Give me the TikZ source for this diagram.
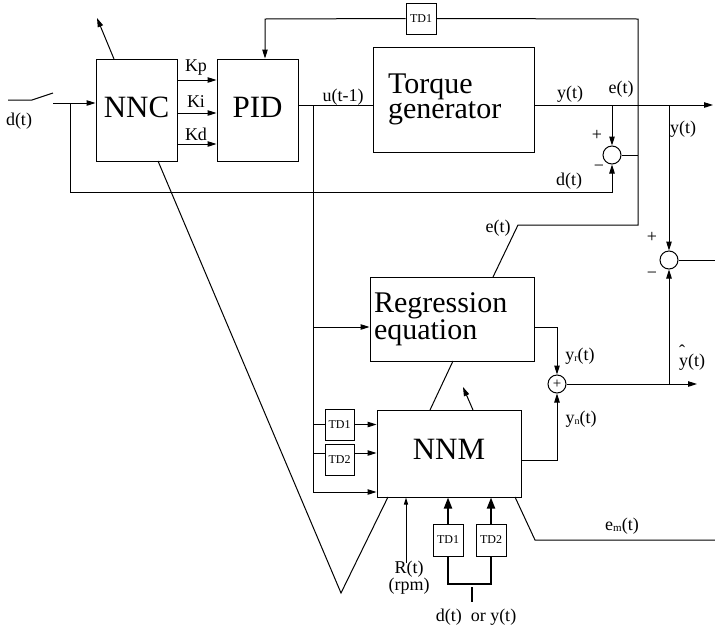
\documentclass[tikz,border=0pt]{standalone}
\usepackage{fontspec}
\setmainfont{Liberation Serif}
\usetikzlibrary{arrows.meta,calc}
\begin{document}
\begin{tikzpicture}[x=1pt,y=-1pt,line width=1pt,
  box/.style={draw,line width=1pt,inner sep=0pt},
  big/.style={font=\fontsize{31}{27}\selectfont},
  lab/.style={font=\fontsize{18}{18}\selectfont,inner sep=0pt},
  tdbox/.style={draw,font=\fontsize{12}{12}\selectfont,inner sep=0pt,minimum width=30pt,minimum height=31pt},
  sumc/.style={draw,circle,minimum size=18pt,inner sep=0pt},
  arr/.style={-{Triangle[length=9pt,width=5.5pt]}},
  arrs/.style={-{Triangle[length=7pt,width=4pt]}},
  tharr/.style={line width=2pt,-{Triangle[length=11pt,width=8pt]}},
  thl/.style={line width=2pt}]
\useasboundingbox (0,0) rectangle (715,630);

% blocks
\node[box,minimum width=81pt,minimum height=102pt,big] (nnc) at (136.5,110) {\raisebox{5pt}{NNC}};
\node[box,minimum width=81pt,minimum height=102pt,big] (pid) at (257.5,110) {\raisebox{5pt}{PID}};
\node[box,minimum width=161pt,minimum height=105pt,font=\fontsize{30}{23}\selectfont,text width=131pt,align=left] (tg) at (453.5,99.5) {Torque\\generator};
\node[box,minimum width=164pt,minimum height=84pt,font=\fontsize{30}{27}\selectfont,text width=156pt,align=left] (reg) at (452,319) {Regression\\equation};
\node[box,minimum width=144pt,minimum height=87pt,big] (nnm) at (449,453.5) {\raisebox{9pt}{NNM}};
\node[tdbox] (tdT) at (421,18.5) {TD1};
\node[tdbox,minimum width=29pt] (tdA) at (339.5,424.5) {TD1};
\node[tdbox,minimum width=29pt] (tdB) at (339.5,459.5) {TD2};
\node[tdbox,minimum height=32pt] (tdC) at (448,540) {TD1};
\node[tdbox,minimum height=32pt] (tdD) at (491,540) {TD2};
\node[sumc] (s1) at (612,155) {};
\node[sumc] (s2) at (669,260) {};
\node[sumc,font=\fontsize{15}{15}\selectfont] (s3) at (557,384) {+};

% coordinates
\coordinate (sw1) at (8,100);
\coordinate (sw2) at (32,100);
\coordinate (sw3) at (53,93);
\coordinate (in) at (53,103);
\coordinate (fb) at (70,103);
\coordinate (fbc) at (70,192);
\coordinate (u0) at (313,105);
\coordinate (yj1) at (612,105);
\coordinate (yj2) at (669,105);
\coordinate (yend) at (713,105);
\coordinate (ec1) at (638,155);
\coordinate (ecb) at (638,225);
\coordinate (ect) at (638,19);
\coordinate (eck) at (518,225);
\coordinate (ecr) at (493,277);
\coordinate (tdl) at (265,19);
\coordinate (s2out) at (715,260);
\coordinate (s3out) at (697,384);
\coordinate (yh) at (669,384);
\coordinate (nncup) at (114,59);
\coordinate (nncupt) at (97,18);
\coordinate (vtop) at (158,161);
\coordinate (vbot) at (341,593);
\coordinate (vr) at (388,497);
\coordinate (rn1) at (453,361);
\coordinate (rn2) at (430,410);
\coordinate (na1) at (473,410);
\coordinate (na2) at (463,387);
\coordinate (rt) at (406,563);
\coordinate (em1) at (515,497);
\coordinate (em2) at (535,540);
\coordinate (em3) at (715,540);
\coordinate (bj) at (472,587);
\coordinate (bje) at (472,602);

% switch and input
\draw (sw1) -- (sw2) -- (sw3);
\draw[arr] (in) -- (in -| nnc.west);
\draw[arr] (fb) -- (fbc) -| (s1.south);

% gains
\draw[arr] (nnc.east |- 0,80) -- (pid.west |- 0,80);
\draw[arr] (nnc.east |- 0,113) -- (pid.west |- 0,113);
\draw[arr] (nnc.east |- 0,144) -- (pid.west |- 0,144);

% PID output
\draw (pid.east |- u0) -- (tg.west |- u0);
\draw[arr] (u0) |- (nnm.west |- 0,492);
\draw[arr] (u0 |- 0,327) -- (reg.west |- 0,327);
\draw (u0 |- tdA.west) -- (tdA.west);
\draw[arr] (tdA.east) -- (nnm.west |- tdA.east);
\draw (u0 |- 0,453) -- (tdB.west |- 0,453);
\draw[arr] (tdB.east |- 0,453) -- (nnm.west |- 0,453);

% plant output
\draw[arr] (tg.east |- yend) -- (yend);
\draw[arr] (yj1) -- (s1.north);
\draw[arr] (yj2) -- (s2.north);
\draw (s1.east) -- (ec1);
\draw (ecr) -- (eck) -- (ecb) -- (ect) -- (tdT.east);
\draw[arr] (tdT.west) -- (tdl) -- (tdl |- pid.north);
\draw (s2.east) -- (s2out);

% model outputs
\draw[arr] (reg.east |- 0,327) -| (s3.north);
\draw[arr] (nnm.east |- 0,460) -| (s3.south);
\draw[arr] (s3.east) -- (s3out);
\draw[arr] (yh) -- (s2.south);

% adaptation lines
\draw[arr] (nncup) -- (nncupt);
\draw (vtop) -- (vbot) -- (vr);
\draw (rn1) -- (rn2);
\draw[arr] (na1) -- (na2);
\draw (em1) -- (em2) -- (em3);

% bottom inputs
\draw[arrs] (rt) -- (rt |- nnm.south);
\draw[tharr] (tdC.north) -- (tdC.north |- nnm.south);
\draw[tharr] (tdD.north) -- (tdD.north |- nnm.south);
\draw[thl] (tdC.south) -- (tdC.south |- 0,584) -- (tdD.south |- 0,584) -- (tdD.south);
\draw[thl] (bj) -- (bje);

% labels
\node[lab] (lkp) at (196,68) {Kp};
\node[lab] (lki) at (196,102) {Ki};
\node[lab] (lkd) at (196,134) {Kd};
\node[lab] (ldt) at (19,121) {d(t)};
\node[lab] (lu) at (343,97) {u(t-1)};
\node[lab] (ly1) at (570,94) {y(t)};
\node[lab] (le1) at (621,89) {e(t)};
\node[lab] (lp1) at (597,135) {+};
\node[lab] (lm1) at (599,168) {\char"2212};
\node[lab] (ld2) at (569,181) {d(t)};
\node[lab] (ly2) at (683,129) {y(t)};
\node[lab] (le2) at (498,228) {e(t)};
\node[lab] (lp2) at (652,237) {+};
\node[lab] (lm2) at (652,275) {\char"2212};
\node[lab] (lyr) at (580,356) {y\raisebox{-1pt}{\fontsize{10}{10}\selectfont r}(t)};
\node[lab] (lyh) at (692,358) {\rlap{\raisebox{0.5em}{\char"02C6}}y(t)};
\node[lab] (lyn) at (581,419) {y\raisebox{-1pt}{\fontsize{10}{10}\selectfont n}(t)};
\node[lab] (lem) at (622,526) {e\raisebox{-1pt}{\fontsize{11}{11}\selectfont m}(t)};
\node[lab,font=\fontsize{18}{15}\selectfont,align=center] (lr) at (409,578) {R(t)\\(rpm)};
\node[lab] (ldy) at (476,617) {d(t)\ \ or y(t)};
\end{tikzpicture}
\end{document}
